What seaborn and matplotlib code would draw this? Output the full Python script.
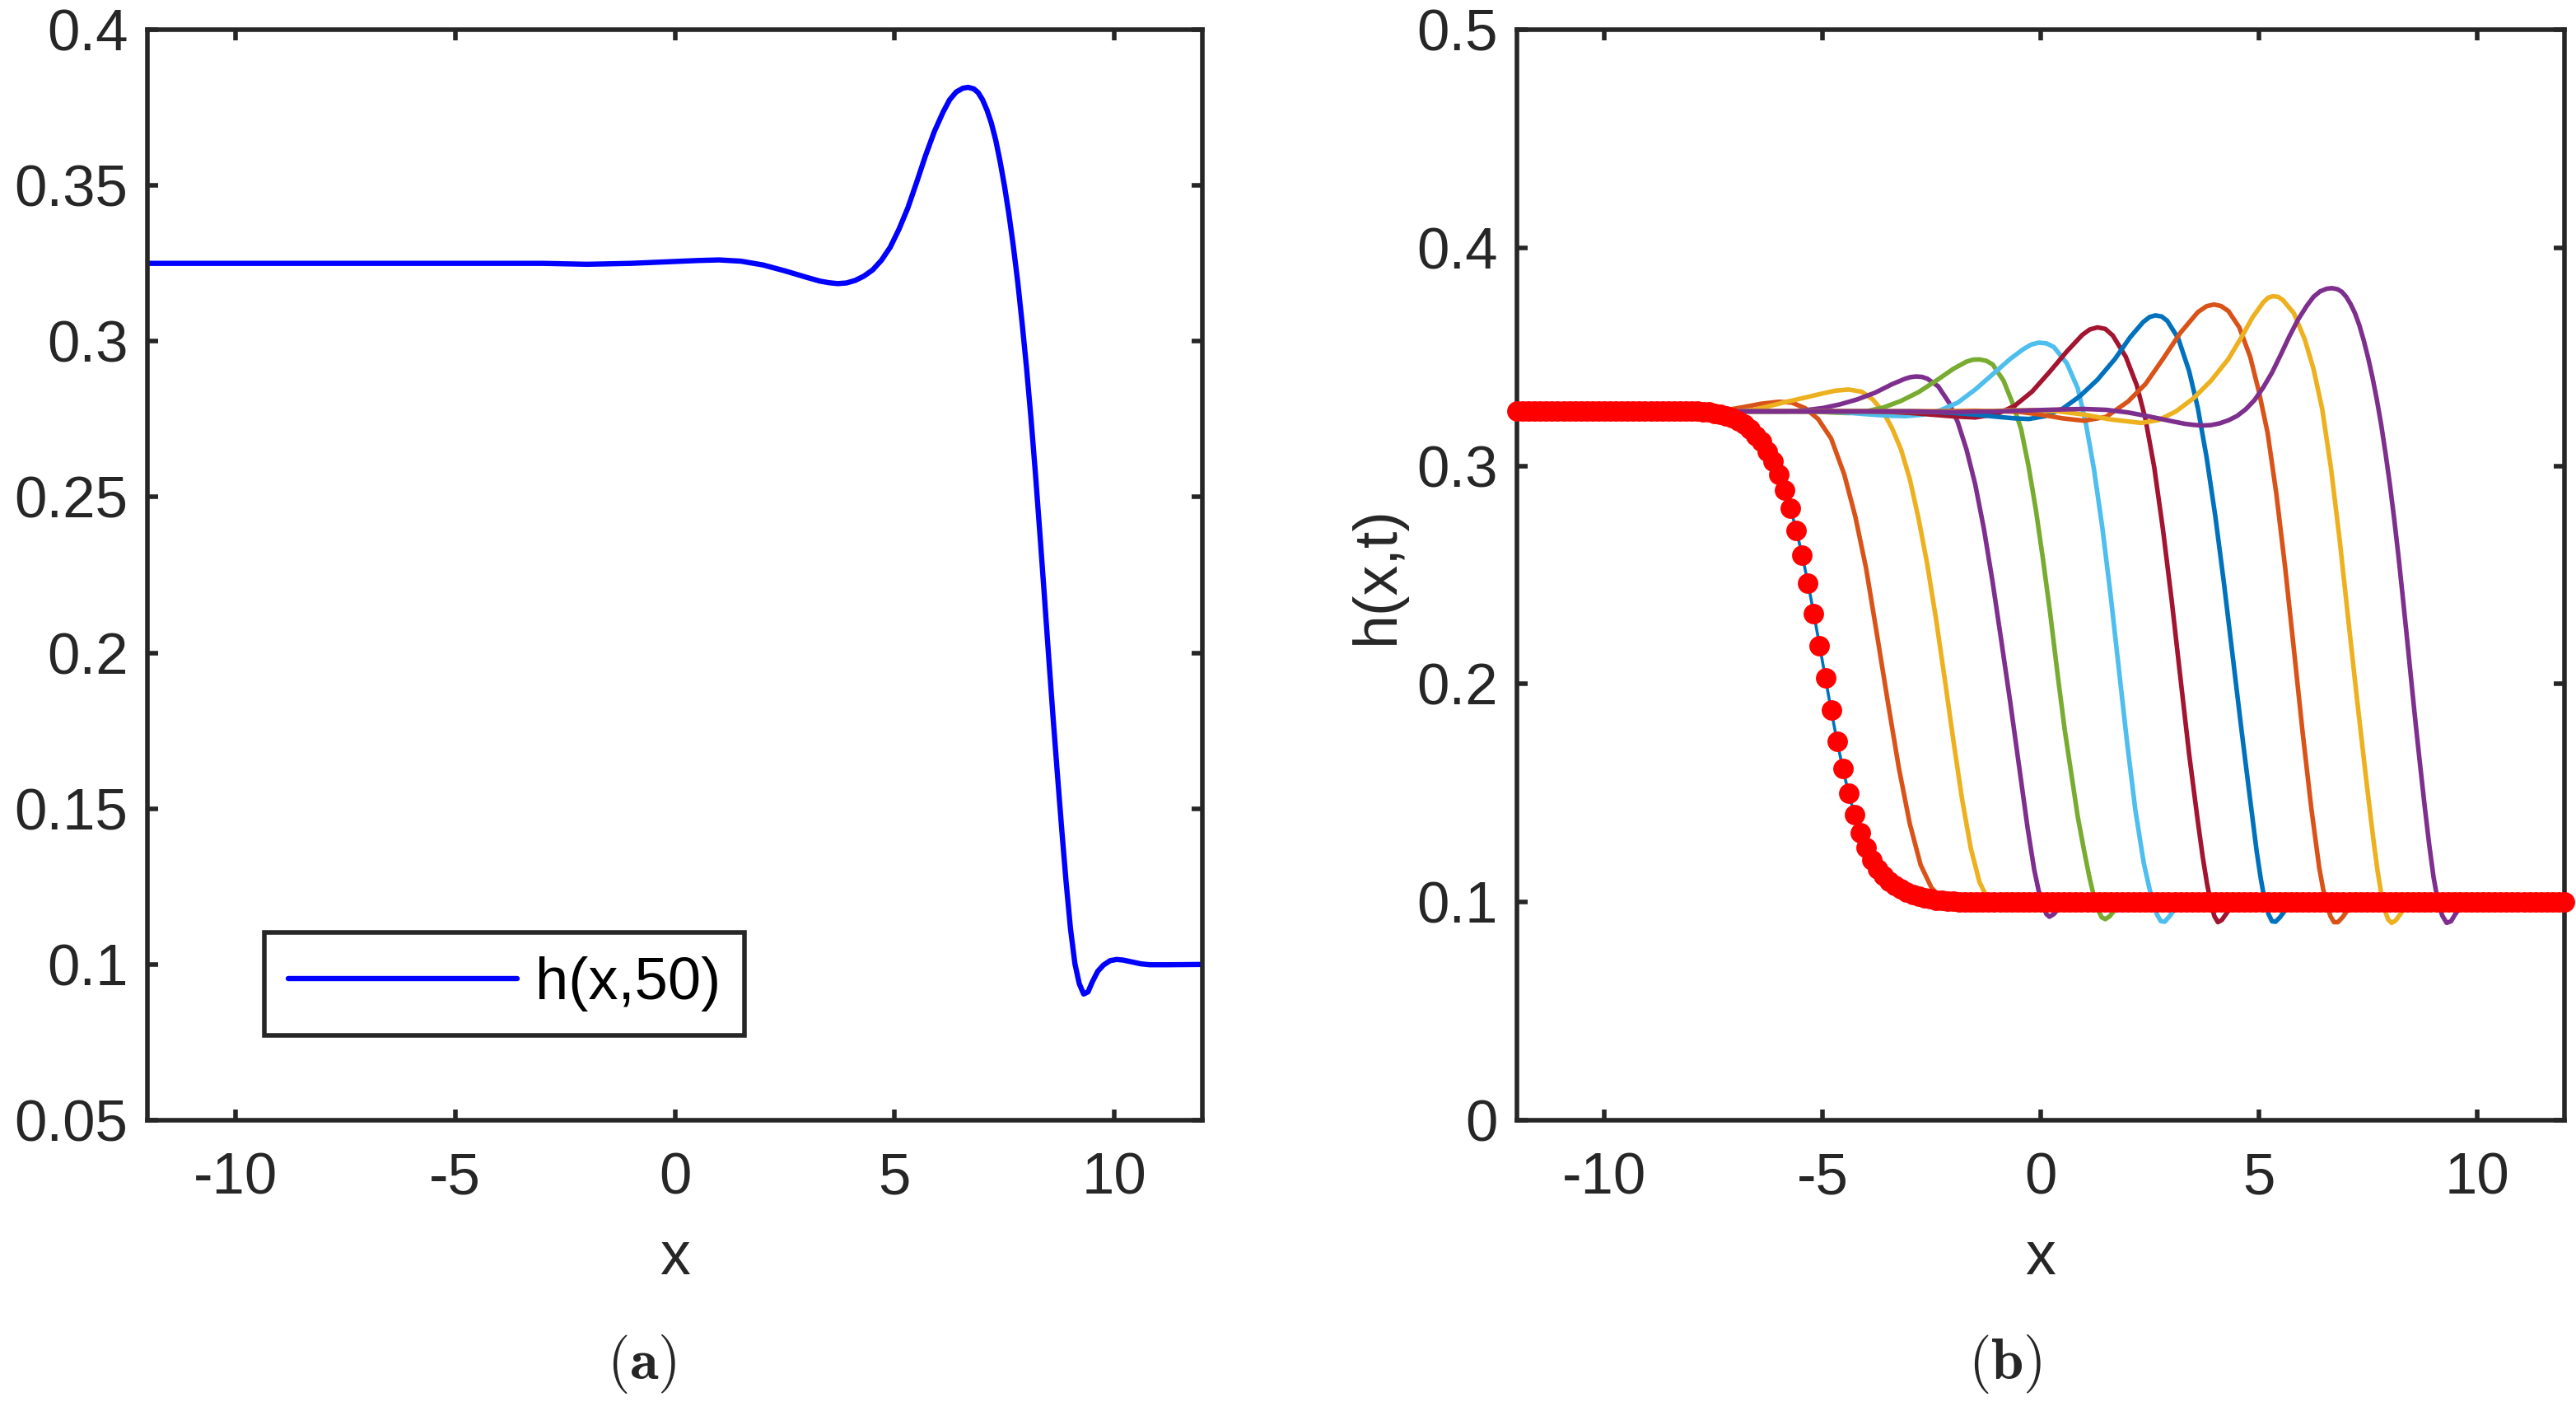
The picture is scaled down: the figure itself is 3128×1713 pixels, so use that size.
import numpy as np
import pandas as pd
import matplotlib
matplotlib.use("Agg")
import matplotlib.pyplot as plt
import seaborn as sns
from matplotlib.ticker import FixedLocator, FuncFormatter

sns.set_theme(style="white")
plt.rcParams["font.family"] = ["Liberation Sans", "DejaVu Sans"]
plt.rcParams["mathtext.fontset"] = "cm"

# ---------------- data ----------------
# Panel (a) and last curve of panel (b): h(x,50)
x_t50 = [-12.0, -3.0, -2.0, -1.0, 0.0, 0.5, 1.0, 1.5, 2.0, 2.5, 3.0, 3.3, 3.5, 3.7, 3.9, 4.1, 4.3, 4.5,
         4.7, 4.9, 5.1, 5.3, 5.5, 5.7, 5.9, 6.1, 6.25, 6.4, 6.55, 6.67, 6.8, 6.9, 7.0, 7.1, 7.2, 7.3,
         7.4, 7.5, 7.6, 7.7, 7.8, 7.9, 8.0, 8.1, 8.2, 8.3, 8.4, 8.5, 8.6, 8.7, 8.8, 8.9, 9.0, 9.1, 9.2,
         9.3, 9.4, 9.5, 9.62, 9.75, 9.9, 10.05, 10.2, 10.4, 10.6, 10.8, 11.2, 12.0]
h_t50 = [0.325, 0.325, 0.3247, 0.3250, 0.3256, 0.3259, 0.3261, 0.3257, 0.3245, 0.3226, 0.3205, 0.3193,
         0.3188, 0.3185, 0.3187, 0.3195, 0.3209, 0.3229, 0.3260, 0.3302, 0.3360, 0.3428, 0.3510, 0.3595,
         0.3672, 0.3735, 0.3775, 0.3800, 0.3812, 0.3815, 0.3810, 0.3798, 0.3775, 0.3742, 0.3700, 0.3645,
         0.3576, 0.3497, 0.3407, 0.3305, 0.3190, 0.3058, 0.2915, 0.2755, 0.2580, 0.2390, 0.2195, 0.1995,
         0.1800, 0.1615, 0.1435, 0.1265, 0.1115, 0.1003, 0.0938, 0.0905, 0.0912, 0.0945, 0.0978, 0.0998,
         0.1012, 0.1016, 0.1014, 0.1008, 0.1002, 0.0999, 0.0999, 0.1000]

x_t05 = [-12.0, -7.6, -7.2, -6.8, -6.4, -6.0, -5.7, -5.4, -5.1, -4.8, -4.5, -4.25, -4.0, -3.75, -3.5,
         -3.25, -3.0, -2.75, -2.5, -2.25, -2.0, -1.7, -1.3, -0.8, 12.0]
h_t05 = [0.325, 0.325, 0.3256, 0.3270, 0.3285, 0.3294, 0.3290, 0.3265, 0.3215, 0.3125, 0.2960, 0.2770,
         0.2530, 0.2225, 0.1915, 0.1615, 0.1360, 0.1170, 0.1065, 0.1015, 0.0995, 0.0988, 0.0996, 0.1000,
         0.1000]

x_t10 = [-12.0, -7.0, -6.6, -6.2, -5.8, -5.4, -5.0, -4.7, -4.4, -4.1, -3.85, -3.6, -3.4, -3.2, -3.0,
         -2.8, -2.6, -2.4, -2.2, -2.0, -1.8, -1.6, -1.4, -1.2, -1.0, -0.7, -0.3, 12.0]
h_t10 = [0.325, 0.325, 0.3256, 0.3275, 0.3295, 0.3313, 0.3332, 0.3345, 0.3350, 0.3340, 0.3305, 0.3245,
         0.3170, 0.3075, 0.2940, 0.2760, 0.2550, 0.2300, 0.2025, 0.1740, 0.1470, 0.1245, 0.1090, 0.1010,
         0.0978, 0.0982, 0.0996, 0.1000]

x_t15 = [-12.0, -5.8, -5.4, -5.0, -4.6, -4.2, -3.8, -3.4, -3.1, -2.98, -2.85, -2.72, -2.6, -2.35, -2.1,
         -1.9, -1.7, -1.5, -1.3, -1.1, -0.9, -0.7, -0.5, -0.3, -0.15, -0.05, 0.05, 0.13, 0.2, 0.3, 0.45,
         0.6, 0.9, 1.3, 12.0]
h_t15 = [0.325, 0.325, 0.3255, 0.3265, 0.3282, 0.3305, 0.3335, 0.3375, 0.3400, 0.3407, 0.3410, 0.3408,
         0.3400, 0.3365, 0.3290, 0.3200, 0.3075, 0.2915, 0.2710, 0.2465, 0.2195, 0.1920, 0.1630, 0.1340,
         0.1150, 0.1055, 0.0985, 0.0945, 0.0933, 0.0945, 0.0980, 0.1008, 0.1016, 0.1003, 0.1000]

x_t20 = [-12.0, -5.2, -4.8, -4.4, -4.0, -3.6, -3.2, -2.8, -2.4, -2.0, -1.7, -1.55, -1.4, -1.25, -1.1,
         -0.85, -0.65, -0.45, -0.28, -0.11, 0.05, 0.22, 0.39, 0.55, 0.70, 0.85, 1.0, 1.12, 1.22, 1.31,
         1.40, 1.48, 1.58, 1.72, 1.9, 2.2, 2.6, 12.0]
h_t20 = [0.325, 0.325, 0.3245, 0.3242, 0.3250, 0.3268, 0.3298, 0.3338, 0.3390, 0.3445, 0.3478, 0.3487,
         0.3488, 0.3482, 0.3465, 0.3390, 0.3290, 0.3169, 0.3000, 0.2798, 0.2575, 0.2320, 0.2039, 0.1790,
         0.1590, 0.1390, 0.1230, 0.1110, 0.1025, 0.0965, 0.0930, 0.0922, 0.0935, 0.0970, 0.1003, 0.1015,
         0.1005, 0.1000]

x_t25 = [-12.0, -5.0, -4.5, -4.0, -3.5, -3.1, -2.7, -2.3, -1.9, -1.5, -1.1, -0.7, -0.4, -0.22, -0.05,
         0.13, 0.3, 0.6, 0.85, 1.03, 1.22, 1.41, 1.60, 1.79, 1.98, 2.17, 2.36, 2.46, 2.56, 2.66, 2.75,
         2.84, 2.95, 3.08, 3.25, 3.5, 3.9, 12.0]
h_t25 = [0.325, 0.325, 0.3245, 0.3237, 0.3230, 0.3228, 0.3235, 0.3255, 0.3290, 0.3350, 0.3420, 0.3490,
         0.3535, 0.3556, 0.3565, 0.3562, 0.3545, 0.3470, 0.3355, 0.3200, 0.2985, 0.2720, 0.2410, 0.2070,
         0.1730, 0.1420, 0.1180, 0.1090, 0.1005, 0.0945, 0.0913, 0.0910, 0.0935, 0.0970, 0.1003, 0.1016,
         0.1006, 0.1000]

x_t30 = [-12.0, -4.5, -4.0, -3.5, -3.0, -2.5, -2.0, -1.5, -1.0, -0.6, -0.2, 0.2, 0.6, 0.95, 1.12, 1.3,
         1.48, 1.65, 1.95, 2.2, 2.4, 2.6, 2.8, 3.0, 3.2, 3.4, 3.6, 3.71, 3.81, 3.90, 3.98, 4.06, 4.15,
         4.28, 4.47, 4.8, 5.2, 12.0]
h_t30 = [0.325, 0.325, 0.3250, 0.3248, 0.3243, 0.3235, 0.3227, 0.3222, 0.3238, 0.3275, 0.3340, 0.3430,
         0.3525, 0.3600, 0.3625, 0.3635, 0.3628, 0.3598, 0.3500, 0.3370, 0.3215, 0.2995, 0.2710, 0.2385,
         0.2030, 0.1680, 0.1370, 0.1210, 0.1085, 0.0995, 0.0935, 0.0908, 0.0918, 0.0955, 0.1000, 0.1016,
         0.1006, 0.1000]

x_t35 = [-12.0, -3.5, -3.0, -2.5, -2.0, -1.5, -1.0, -0.6, -0.27, 0.1, 0.5, 0.9, 1.3, 1.7, 2.05, 2.35,
         2.5, 2.63, 2.77, 2.9, 3.15, 3.4, 3.6, 3.8, 4.0, 4.2, 4.4, 4.6, 4.78, 4.95, 5.04, 5.13, 5.22,
         5.30, 5.38, 5.48, 5.62, 5.8, 6.1, 6.5, 12.0]
h_t35 = [0.325, 0.325, 0.3250, 0.3248, 0.3243, 0.3235, 0.3225, 0.3218, 0.3215, 0.3228, 0.3262, 0.3320,
         0.3395, 0.3490, 0.3590, 0.3660, 0.3683, 0.3690, 0.3685, 0.3665, 0.3585, 0.3435, 0.3265, 0.3040,
         0.2770, 0.2460, 0.2125, 0.1790, 0.1500, 0.1230, 0.1110, 0.1010, 0.0945, 0.0912, 0.0910, 0.0930,
         0.0968, 0.1000, 0.1016, 0.1006, 0.1000]

x_t40 = [-12.0, -2.5, -1.5, -0.5, 0.0, 0.5, 1.0, 1.5, 2.0, 2.4, 2.8, 3.2, 3.6, 3.8, 3.97, 4.13, 4.3,
         4.55, 4.8, 5.0, 5.2, 5.4, 5.6, 5.8, 6.0, 6.2, 6.38, 6.47, 6.56, 6.64, 6.72, 6.81, 6.92, 7.05,
         7.2, 7.45, 7.8, 12.0]
h_t40 = [0.325, 0.325, 0.3253, 0.3248, 0.3235, 0.3218, 0.3207, 0.3225, 0.3295, 0.3375, 0.3490, 0.3610,
         0.3705, 0.3732, 0.3740, 0.3733, 0.3710, 0.3635, 0.3500, 0.3340, 0.3150, 0.2870, 0.2535, 0.2160,
         0.1780, 0.1430, 0.1160, 0.1060, 0.0985, 0.0935, 0.0908, 0.0908, 0.0932, 0.0968, 0.1000, 0.1016,
         0.1006, 0.1000]

x_t45 = [-12.0, -1.5, -0.8, -0.2, 0.4, 1.0, 1.6, 2.3, 2.7, 3.1, 3.5, 3.9, 4.3, 4.6, 4.85, 5.1, 5.21,
         5.32, 5.44, 5.55, 5.8, 6.05, 6.25, 6.45, 6.65, 6.85, 7.05, 7.25, 7.45, 7.62, 7.72, 7.81, 7.89,
         7.96, 8.04, 8.13, 8.25, 8.4, 8.65, 9.0, 12.0]
h_t45 = [0.325, 0.325, 0.3254, 0.3256, 0.3250, 0.3235, 0.3213, 0.3197, 0.3210, 0.3250, 0.3310, 0.3390,
         0.3490, 0.3590, 0.3680, 0.3750, 0.3771, 0.3778, 0.3775, 0.3760, 0.3700, 0.3580, 0.3445, 0.3260,
         0.2990, 0.2660, 0.2290, 0.1925, 0.1575, 0.1290, 0.1140, 0.1030, 0.0960, 0.0920, 0.0905, 0.0915,
         0.0948, 0.0990, 0.1014, 0.1008, 0.1000]

# initial condition h(x,0), sampled on the grid shown by the red dots (spacing 24/180)
dots_x = np.linspace(-12.0, 12.0, 181)
dots_h = ([0.325] * 32 +
          [0.3248, 0.3246, 0.3242, 0.3236, 0.3228, 0.3220, 0.3205, 0.3190, 0.3170, 0.3140, 0.3110,
           0.3065, 0.3020, 0.2961, 0.2890, 0.2806, 0.2705, 0.2592, 0.2464, 0.2324, 0.2177, 0.2027,
           0.1879, 0.1739, 0.1612, 0.1499, 0.1401, 0.1317, 0.1251, 0.1192, 0.1152, 0.1122, 0.1097,
           0.1077, 0.1060, 0.1046, 0.1035, 0.1026, 0.1019, 0.1014, 0.1010, 0.1007, 0.1005, 0.1003,
           0.1002, 0.1001] +
          [0.1] * 103)

time_labels = ["t=5", "t=10", "t=15", "t=20", "t=25", "t=30", "t=35", "t=40", "t=45", "t=50"]
curve_x = [x_t05, x_t10, x_t15, x_t20, x_t25, x_t30, x_t35, x_t40, x_t45, x_t50]
curve_h = [h_t05, h_t10, h_t15, h_t20, h_t25, h_t30, h_t35, h_t40, h_t45, h_t50]
curve_colors = ["#D95319", "#EDB120", "#7E2F8E", "#77AC30", "#4DBEEE", "#A2142F",
                "#0072BD", "#D95319", "#EDB120", "#7E2F8E"]

xticks = [-10, -5, 0, 5, 10]
yticks_a = [0.05, 0.1, 0.15, 0.2, 0.25, 0.3, 0.35, 0.4]
yticks_b = [0, 0.1, 0.2, 0.3, 0.4, 0.5]

# ---------------- figure ----------------
W, H = 3128, 1713
DPI = 200
fig = plt.figure(figsize=(W / DPI, H / DPI), dpi=DPI)
fig.patch.set_facecolor("white")
ax1 = fig.add_axes([179 / W, (H - 1360) / H, 1281 / W, 1324 / H])
ax2 = fig.add_axes([1842 / W, (H - 1360) / H, 1272 / W, 1324 / H])

AX_COL = "#262626"
TICK_FS = 25.5
LAB_FS = 26.5

# panel (a)
df_a = pd.DataFrame({"x": x_t50, "h": h_t50, "series": "h(x,50)"})
sns.lineplot(data=df_a, x="x", y="h", hue="series", palette={"h(x,50)": "#0000FF"},
             linewidth=2.3, estimator=None, errorbar=None, sort=False, ax=ax1)

# panel (b)
sns.lineplot(x=dots_x, y=dots_h, color="#0072BD", linewidth=1.3, estimator=None,
             errorbar=None, sort=False, ax=ax2)
frames = [pd.DataFrame({"x": xs, "h": hs, "t": lab})
          for lab, xs, hs in zip(time_labels, curve_x, curve_h)]
df_b = pd.concat(frames, ignore_index=True)
palette = dict(zip(time_labels, curve_colors))
sns.lineplot(data=df_b, x="x", y="h", hue="t", hue_order=time_labels, palette=palette,
             linewidth=2.0, estimator=None, errorbar=None, sort=False, legend=False, ax=ax2)
sns.scatterplot(x=dots_x, y=dots_h, color="#FF0000", s=80, linewidth=0, zorder=5,
                clip_on=False, legend=False, ax=ax2)

fmt = FuncFormatter(lambda v, p: f"{v:g}")
for ax, yt, ylim in [(ax1, yticks_a, (0.05, 0.4)), (ax2, yticks_b, (0, 0.5))]:
    ax.set_xlim(-12, 12)
    ax.set_ylim(*ylim)
    ax.xaxis.set_major_locator(FixedLocator(xticks))
    ax.yaxis.set_major_locator(FixedLocator(yt))
    ax.xaxis.set_major_formatter(fmt)
    ax.yaxis.set_major_formatter(fmt)
    ax.set_facecolor("white")
    for sp in ax.spines.values():
        sp.set_visible(True)
        sp.set_color(AX_COL)
        sp.set_linewidth(2.0)
    ax.tick_params(axis="both", which="major", direction="in", length=4.7, width=2.0,
                   colors=AX_COL, labelcolor=AX_COL, labelsize=TICK_FS,
                   top=True, right=True, bottom=True, left=True)
    ax.tick_params(axis="y", pad=8.5)
    ax.tick_params(axis="x", pad=14.0)
    ax.set_xlabel("x", fontsize=LAB_FS, color=AX_COL, labelpad=10)
    ax.grid(False)

ax1.set_ylabel("")
ax2.set_ylabel("h(x,t)", fontsize=LAB_FS, color=AX_COL, labelpad=4.5)

leg = ax1.legend(loc="lower left", bbox_to_anchor=(0.1108, 0.0778), borderaxespad=0,
                 frameon=True, fancybox=False, framealpha=1, edgecolor=AX_COL,
                 fontsize=26, handlelength=3.85, handletextpad=0.3, borderpad=0.4)
leg.get_frame().set_linewidth(2.0)
for txt in leg.get_texts():
    txt.set_color("black")

fig.text(779 / W, 1 - 1656 / H, r"$(\mathbf{a})$", ha="center", va="center", fontsize=25.5)
fig.text(2435 / W, 1 - 1656 / H, r"$(\mathbf{b})$", ha="center", va="center", fontsize=25.5)

fig.savefig("out.png", dpi=DPI, facecolor="white")
